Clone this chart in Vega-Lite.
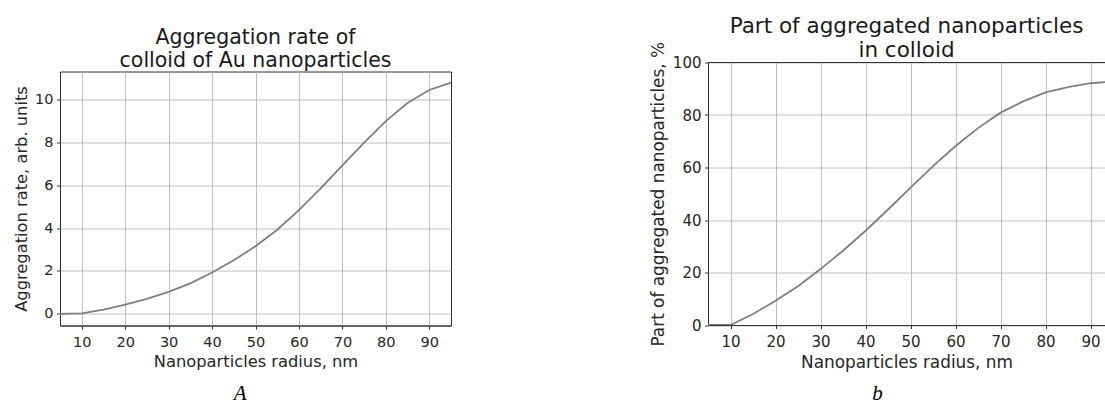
{
  "$schema": "https://vega.github.io/schema/vega-lite/v6.json",
  "padding": {"left": 13, "top": 14.5, "right": 0, "bottom": 0},
  "background": "white",
  "config": {
    "font": "DejaVu Sans",
    "view": {"stroke": null},
    "axis": {
      "labelFont": "DejaVu Sans",
      "titleFont": "DejaVu Sans",
      "labelColor": "#262626",
      "titleColor": "#262626",
      "titleFontWeight": "normal",
      "tickColor": "#333333",
      "tickSize": 3.5,
      "domainColor": "#333333",
      "gridColor": "#b0b0b0",
      "gridWidth": 0.8,
      "grid": true,
      "labelPadding": 3.5,
      "titlePadding": 5
    },
    "axisX": {"labelPadding": 6},
    "title": {"font": "DejaVu Sans", "fontWeight": "normal", "color": "#1a1a1a"}
  },
  "spacing": 193,
  "hconcat": [
    {
      "spacing": 0,
      "title": {"text": "A", "orient": "bottom", "anchor": "middle", "font": "Liberation Serif", "fontStyle": "italic", "fontSize": 21, "fontWeight": "normal", "color": "#000000", "offset": 13, "dx": 6},
      "vconcat": [
        {"width": 391, "height": 1, "view": {"stroke": null}, "data": {"values": []}, "mark": "point"},
        {
          "width": 391,
          "height": 254,
          "view": {"stroke": "#333333", "strokeWidth": 1},
          "title": {"text": " ", "fontSize": 6, "subtitle": ["Aggregation rate of", "colloid of Au nanoparticles"], "subtitleFont": "DejaVu Sans", "subtitleFontSize": 20.5, "subtitleLineHeight": 22.6, "subtitleColor": "#1a1a1a", "subtitlePadding": 5.8, "offset": 0},
          "data": {"values": [
            {"radius": 5, "rate": 0.0},
            {"radius": 10, "rate": 0.02},
            {"radius": 15, "rate": 0.2},
            {"radius": 20, "rate": 0.43},
            {"radius": 25, "rate": 0.7},
            {"radius": 30, "rate": 1.03},
            {"radius": 35, "rate": 1.42},
            {"radius": 40, "rate": 1.93},
            {"radius": 45, "rate": 2.5},
            {"radius": 50, "rate": 3.15},
            {"radius": 55, "rate": 3.92},
            {"radius": 60, "rate": 4.83},
            {"radius": 65, "rate": 5.85},
            {"radius": 70, "rate": 6.92},
            {"radius": 75, "rate": 7.98},
            {"radius": 80, "rate": 8.98},
            {"radius": 85, "rate": 9.82},
            {"radius": 90, "rate": 10.43},
            {"radius": 95, "rate": 10.77}
          ]},
          "mark": {"type": "line", "color": "#7f7f7f", "strokeWidth": 1.8},
          "encoding": {
            "x": {"field": "radius", "type": "quantitative",
                  "scale": {"domain": [5, 95], "nice": false, "zero": false},
                  "axis": {"values": [10, 20, 30, 40, 50, 60, 70, 80, 90], "title": "Nanoparticles radius, nm", "labelFontSize": 14.5, "titleFontSize": 16.3}},
            "y": {"field": "rate", "type": "quantitative",
                  "scale": {"domain": [-0.54, 11.29], "nice": false, "zero": false},
                  "axis": {"values": [0, 2, 4, 6, 8, 10], "title": "Aggregation rate, arb. units", "labelFontSize": 14.5, "titleFontSize": 16.3}}
          }
        }
      ]
    },
    {
      "spacing": 0,
      "title": {"text": "b", "orient": "bottom", "anchor": "middle", "font": "Liberation Serif", "fontStyle": "italic", "fontSize": 21, "fontWeight": "normal", "color": "#000000", "offset": 13},
      "vconcat": [
        {"width": 397, "height": 1, "view": {"stroke": null}, "data": {"values": []}, "mark": "point"},
        {
          "width": 397,
          "height": 262.5,
          "title": {"text": ["Part of aggregated nanoparticles", "in colloid"], "fontSize": 21.5, "lineHeight": 24.3, "offset": -20},
          "data": {"values": [
            {"radius": 5, "part": 0.0},
            {"radius": 10, "part": 0.0},
            {"radius": 15, "part": 4.2},
            {"radius": 20, "part": 9.2},
            {"radius": 25, "part": 14.8},
            {"radius": 30, "part": 21.3},
            {"radius": 35, "part": 28.3},
            {"radius": 40, "part": 35.9},
            {"radius": 45, "part": 44.0},
            {"radius": 50, "part": 52.3},
            {"radius": 55, "part": 60.5},
            {"radius": 60, "part": 68.2},
            {"radius": 65, "part": 75.0},
            {"radius": 70, "part": 80.9},
            {"radius": 75, "part": 85.2},
            {"radius": 80, "part": 88.6},
            {"radius": 85, "part": 90.6},
            {"radius": 90, "part": 92.1},
            {"radius": 95, "part": 92.8}
          ]},
          "layer": [
            {
              "mark": {"type": "line", "color": "#7f7f7f", "strokeWidth": 1.8, "clip": true},
              "encoding": {
                "x": {"field": "radius", "type": "quantitative",
                      "scale": {"domain": [5, 93.2], "nice": false, "zero": false},
                      "axis": {"values": [10, 20, 30, 40, 50, 60, 70, 80, 90], "title": "Nanoparticles radius, nm", "labelFontSize": 15, "titleFontSize": 16.9}},
                "y": {"field": "part", "type": "quantitative",
                      "scale": {"domain": [0, 100], "nice": false, "zero": false},
                      "axis": {"values": [0, 20, 40, 60, 80, 100], "title": "Part of aggregated nanoparticles, %", "labelFontSize": 15, "titleFontSize": 16.9}}
              }
            },
            {
              "mark": {"type": "rule", "color": "#333333", "strokeWidth": 1},
              "encoding": {"y": {"datum": 100}}
            }
          ]
        }
      ]
    }
  ]
}
